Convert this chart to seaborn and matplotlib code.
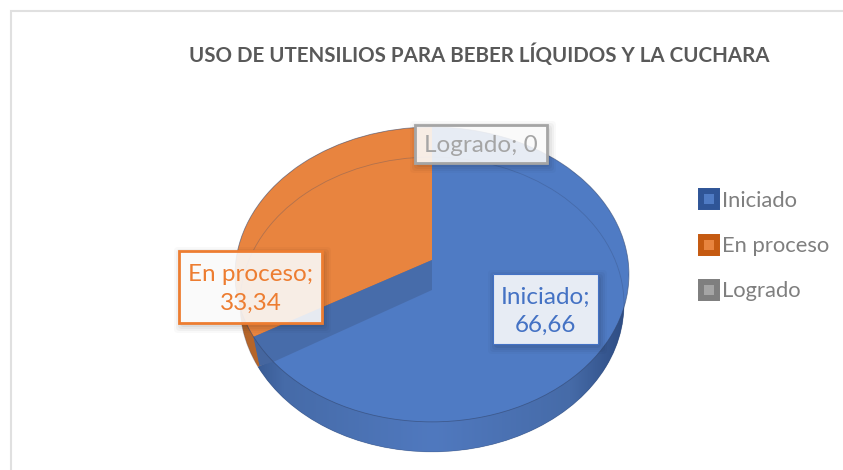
import numpy as np
import seaborn as sns
from matplotlib import pyplot as plt
from matplotlib.colors import LinearSegmentedColormap
from matplotlib.lines import Line2D
from matplotlib.patches import Circle, FancyBboxPatch, Polygon, Rectangle
from matplotlib.transforms import Transform

categories = ['Iniciado', 'En proceso', 'Logrado']
values = [66.66, 33.34, 0]
value_labels = ['66,66', '33,34', '0']
title = 'USO DE UTENSILIOS PARA BEBER LÍQUIDOS Y LA CUCHARA'

top_colors = ['#4f7bc4', '#e8843f', '#a5a5a5']
side_colors = ['#3f659f', '#b5652a', '#7f7f7f']
edge_colors = ['#2f5597', '#c55a11', '#7f7f7f']
text_colors = ['#4472c4', '#ed7d31', '#a5a5a5']

sns.set_theme(style='white')
plt.rcParams['font.family'] = ['Lato', 'DejaVu Sans']

W, H = 843, 470
CX, CY = 432, H - 260     # apex of the top face, in pixels
DEPTH = 30
RX, RY, TILT = 196, 146, 0.098
BASE_SHRINK = 0.975       # the base is a little narrower than the top face


class Tilted(Transform):
    # Projects the flat unit pie to the tilted disc, in pixel coordinates
    input_dims = output_dims = 2

    def __init__(self, drop=0):
        super().__init__()
        self.drop = drop

    def transform_non_affine(self, xy):
        xy = np.asarray(xy, dtype=float)
        w = 1 + TILT * xy[:, 1]
        rx = RX * BASE_SHRINK if self.drop else RX
        return np.column_stack([CX + rx * xy[:, 0] / w, CY - self.drop + RY * xy[:, 1] / w])


fig = plt.figure(figsize=(W / 100, H / 100), dpi=100, facecolor='white')
ax = fig.add_axes([0, 0, 1, 1])


def tilted_pie(colors, drop=0, zorder=1, **wedge_kw):
    wedges, _ = ax.pie(values, colors=colors, startangle=90, counterclock=False, wedgeprops=wedge_kw)
    trans = Tilted(drop) + ax.transData
    for wedge in wedges:
        wedge.set_transform(trans)
        wedge.set_zorder(zorder)
    return wedges


# Side wall, then the top face
base = tilted_pie(side_colors, drop=DEPTH, zorder=1, linewidth=0)
top = tilted_pie(top_colors, zorder=3, linewidth=0)

ax.set_aspect('auto')
ax.set_xlim(0, W)
ax.set_ylim(0, H)
ax.axis('off')

# Thin rims: the top face, and the base seen through it
for drop, a in ((0, 0.6), (DEPTH, 0.3)):
    ring = Circle((0, 0), 1, facecolor='none', edgecolor='#33476f', linewidth=0.6, alpha=a, zorder=4)
    ax.add_patch(ring)
    ring.set_transform(Tilted(drop) + ax.transData)

# Shading on the blue wall, dark at both ends
wall_cmap = LinearSegmentedColormap.from_list('wall', [(0, '#2f4f85'), (0.12, '#466ba8'), (0.5, '#5079bf'),
                                                       (0.85, '#466ba8'), (1, '#2c4a80')])
grad = ax.imshow(np.linspace(0, 1, 256).reshape(1, -1), cmap=wall_cmap, extent=(236, 630, 0, 240),
                 aspect='auto', zorder=2)
grad.set_clip_path(base[0])

# Inner wall along the cut between the two slices
angle = np.deg2rad(90 - 360 * values[0] / sum(values))
ux, uy = np.cos(angle), np.sin(angle)
proj = Tilted().transform_non_affine(np.array([[0, 0], [ux, uy]]))
wall_pts = [proj[0], proj[1], proj[1] + [6, -DEPTH + 1], proj[1] + [20, -DEPTH + 5], proj[0] - [0, DEPTH]]
ax.add_patch(Polygon(wall_pts, closed=True, facecolor='#45669f', linewidth=0, zorder=2.5))
ax.add_patch(Polygon(wall_pts, closed=True, facecolor='#45669f', alpha=0.7, linewidth=0, zorder=3.5))

# Chart frame, it runs off the picture on the right and at the bottom
ax.add_patch(Rectangle((10.5, -10), W + 10, H - 1, facecolor='none', edgecolor='#e0e0e0', linewidth=1.5, zorder=0))

ax.text(479, H - 55, title, ha='center', va='center', fontsize=14.8, fontweight='bold', color='#595959')


def data_label(x0, y0, x1, y1, idx, text, line_w):
    # Box given in image pixels from the top-left corner
    for grow, a in ((7, 0.025), (5, 0.035), (3, 0.04), (1, 0.05)):
        ax.add_patch(FancyBboxPatch((x0 - grow + 2, H - y1 - grow - 3), x1 - x0 + 2 * grow, y1 - y0 + 2 * grow,
                                    boxstyle='round,pad=0,rounding_size=4', facecolor='black', alpha=a,
                                    linewidth=0, zorder=5))
    ax.add_patch(Rectangle((x0, H - y1), x1 - x0, y1 - y0, facecolor='white', alpha=0.88,
                           edgecolor='none', zorder=6))
    ax.add_patch(Rectangle((x0, H - y1), x1 - x0, y1 - y0, facecolor='none', edgecolor=text_colors[idx],
                           linewidth=line_w, zorder=6))
    ax.text((x0 + x1) / 2, H - (y0 + y1) / 2 - 2, text, ha='center', va='center', fontsize=17.5, linespacing=1.42,
            color=text_colors[idx], zorder=7)


data_label(493, 274, 598, 344, 0, f'{categories[0]};\n{value_labels[0]}', 0.8)
data_label(179, 251, 322, 323, 1, f'{categories[1]};\n{value_labels[1]}', 2)
data_label(415, 125, 547, 163, 2, f'{categories[2]}; {value_labels[2]}', 2)

handles = [Line2D([], [], linestyle='none', marker='s', markersize=11.5, markeredgewidth=4.3,
                  markerfacecolor=top_colors[i], markeredgecolor=edge_colors[i]) for i in range(3)]
ax.legend(handles, categories, loc='upper left', bbox_to_anchor=(698 / W, 1 - 191 / H), frameon=False,
          fontsize=15.8, labelcolor='#7f7f7f', handlelength=1, handletextpad=0.09, labelspacing=1.15,
          borderpad=0, borderaxespad=0)

fig.savefig('out.png', dpi=100)
